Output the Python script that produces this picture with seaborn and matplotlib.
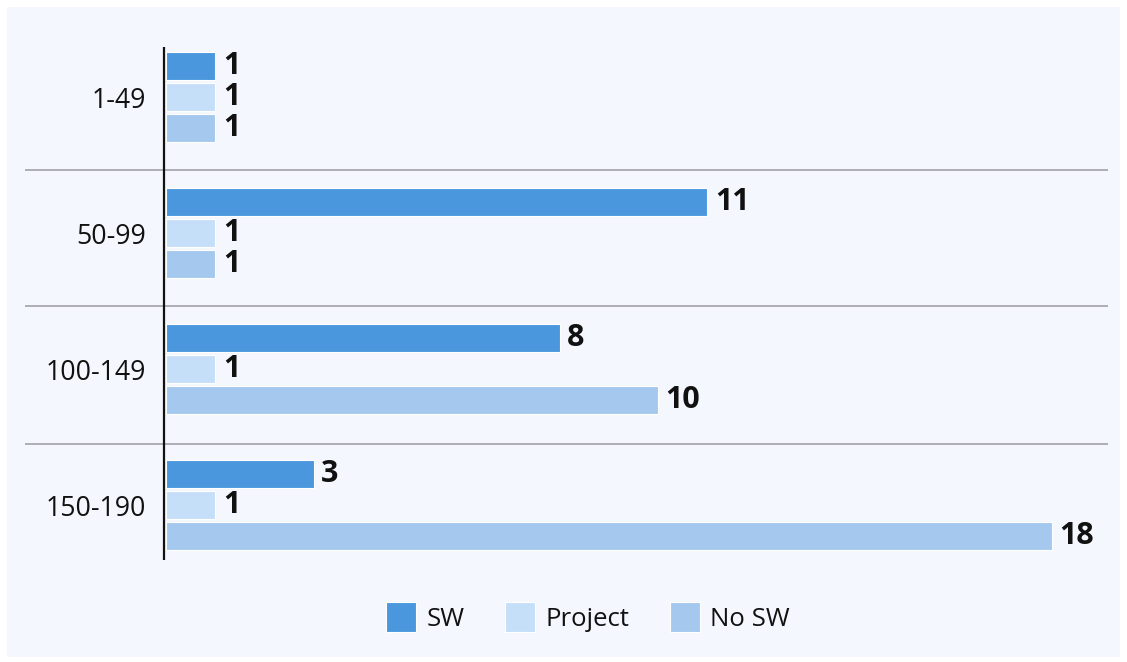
import matplotlib
matplotlib.use("Agg")
import matplotlib.pyplot as plt
import matplotlib.patches as mpatches
import seaborn as sns
import pandas as pd

# Staff groups and counts per category
groups = ["1-49", "50-99", "100-149", "150-190"]
series = ["SW", "Project", "No SW"]
sw_counts = [1, 11, 8, 3]
project_counts = [1, 1, 1, 1]
no_sw_counts = [1, 1, 10, 18]
palette = ["#4a97dd", "#c6dff8", "#a5c9ee"]

rows = []
for name, vals in zip(series, [sw_counts, project_counts, no_sw_counts]):
    for g, v in zip(groups, vals):
        rows.append({"group": g, "series": name, "count": v})
df = pd.DataFrame(rows)

sns.set_theme(style="white")
plt.rcParams["font.family"] = ["Open Sans", "DejaVu Sans"]

W, H = 1127, 662
fig = plt.figure(figsize=(W / 100, H / 100), dpi=100, facecolor="white")

# light panel behind the chart
fig.patches.append(mpatches.Rectangle((7 / W, 1 - 657 / H), (1120 - 7) / W, (657 - 7) / H,
                                      transform=fig.transFigure, facecolor="#f4f7fd",
                                      edgecolor="none", zorder=-10))

left_px, right_px, top_px, bottom_px = 25, 1108, 47, 560
ax = fig.add_axes([left_px / W, 1 - bottom_px / H, (right_px - left_px) / W, (bottom_px - top_px) / H])
ax.set_facecolor("none")

sns.barplot(data=df, y="group", x="count", hue="series", hue_order=series, order=groups,
            palette=palette, saturation=1, orient="h", width=0.684, gap=0.1, ax=ax,
            edgecolor="white", linewidth=0.8, legend=True)

px_per_unit = 49.2
zero_px = 166
ax.set_xlim((left_px - zero_px) / px_per_unit, (right_px - zero_px) / px_per_unit)
ax.set_ylim(3.404, -0.368)

for cont in ax.containers:
    ax.bar_label(cont, padding=5.5, fontsize=22, fontweight="bold", color="#111111")

# group separators and category axis line
for y in [0.54, 1.54, 2.55]:
    ax.axhline(y, color="#a8a9b0", lw=1.3, zorder=0.5)
ax.axvline(-0.045, color="#111111", lw=1.6, zorder=3)

for s in ax.spines.values():
    s.set_visible(False)
ax.set_xticks([])
ax.set_xlabel("")
ax.set_ylabel("")
ax.tick_params(axis="y", length=0, pad=-(146 - left_px) * 0.72, labelsize=19.2, labelcolor="#111111")

handles, labels = ax.get_legend_handles_labels()
ax.get_legend().remove()
fig.legend(handles, labels, loc="center", bbox_to_anchor=(588 / W, 1 - 617 / H), ncol=3,
           frameon=False, fontsize=18.5, handlelength=1.15, handleheight=1.4,
           handletextpad=0.4, columnspacing=1.6, labelcolor="#111111")

fig.savefig("out.png", dpi=100, facecolor="white")
